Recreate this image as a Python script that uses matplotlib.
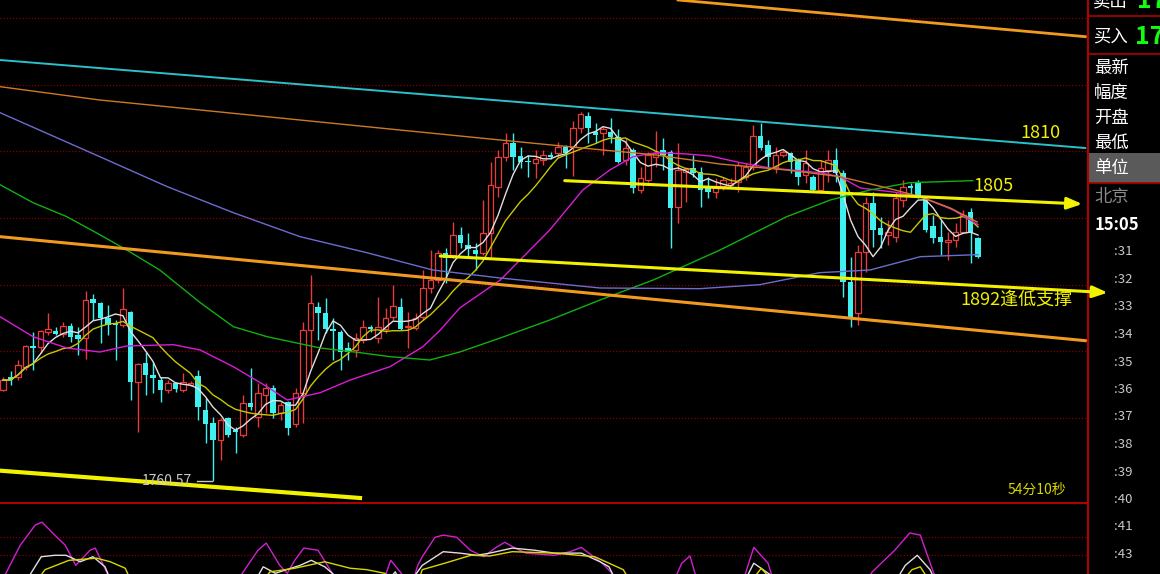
import numpy as np
import pandas as pd
import matplotlib
matplotlib.use('Agg')
import matplotlib.pyplot as plt
from matplotlib.lines import Line2D
from matplotlib.patches import Rectangle

plt.rcParams['font.family'] = ['Noto Sans CJK SC', 'DejaVu Sans']

# ---- candles (5 min bars), prices ----
opens = [1774.2, 1776.2, 1776.2, 1777.7, 1780.8, 1780.7, 1782.9, 1783.1, 1782.6, 1783.8,
         1782.5, 1782.0, 1787.9, 1787.3, 1785.0, 1784.3, 1784.0, 1785.9, 1775.4, 1778.3,
         1776.5, 1775.7, 1774.2, 1775.3, 1774.2, 1775.0, 1776.3, 1771.2, 1769.3, 1766.7,
         1770.0, 1768.2, 1767.5, 1772.3, 1770.2, 1773.5, 1774.5, 1770.8, 1772.4, 1769.1,
         1773.8, 1783.2, 1786.7, 1785.8, 1783.4, 1782.9, 1780.5, 1780.2, 1781.7, 1783.7,
         1782.0, 1783.4, 1785.2, 1786.7, 1783.6, 1783.5, 1785.2, 1789.5, 1790.7, 1794.8,
         1794.5, 1797.5, 1796.0, 1795.2, 1794.8, 1797.8, 1804.7, 1809.2, 1811.3, 1809.3,
         1808.6, 1808.3, 1808.7, 1809.5, 1809.8, 1810.7, 1810.7, 1813.5, 1815.3, 1812.9,
         1812.8, 1812.9, 1812.2, 1808.7, 1810.2, 1804.2, 1805.7, 1809.2, 1810.2, 1809.9,
         1801.7, 1806.9, 1807.5, 1806.9, 1804.7, 1803.9, 1804.8, 1805.0, 1805.4, 1806.2,
         1807.7, 1812.3, 1811.0, 1807.7, 1809.5, 1809.8, 1808.7, 1806.5, 1806.2, 1804.2,
         1807.2, 1808.7, 1806.8, 1790.4, 1785.8, 1794.9, 1802.3, 1798.5, 1797.5, 1797.2,
         1802.7, 1804.8, 1805.2, 1802.7, 1798.8, 1797.2, 1796.4, 1796.7, 1797.9, 1800.9,
         1797.0]
highs = [1776.2, 1777.0, 1778.7, 1781.0, 1782.9, 1783.2, 1785.8, 1783.7, 1784.4, 1784.3,
         1783.7, 1789.1, 1788.6, 1787.4, 1787.0, 1784.7, 1789.5, 1786.0, 1778.2, 1779.9,
         1778.4, 1776.2, 1775.7, 1775.4, 1776.8, 1775.6, 1777.2, 1773.0, 1770.2, 1770.0,
         1770.2, 1768.7, 1773.5, 1777.5, 1775.3, 1775.3, 1775.0, 1772.4, 1772.6, 1774.5,
         1784.4, 1791.5, 1787.4, 1788.0, 1785.0, 1783.2, 1781.4, 1782.8, 1784.7, 1784.0,
         1788.2, 1786.5, 1790.0, 1788.0, 1785.9, 1785.8, 1792.2, 1795.2, 1795.2, 1795.5,
         1799.4, 1798.7, 1797.8, 1796.3, 1802.7, 1808.4, 1810.2, 1812.8, 1812.8, 1810.7,
         1809.5, 1810.2, 1810.2, 1809.9, 1811.4, 1811.0, 1814.6, 1815.9, 1815.9, 1814.3,
         1813.7, 1815.0, 1813.4, 1812.0, 1810.5, 1807.7, 1809.9, 1813.1, 1812.0, 1810.2,
         1811.3, 1807.7, 1809.5, 1807.7, 1806.2, 1806.0, 1806.2, 1806.0, 1808.4, 1808.2,
         1814.0, 1814.3, 1811.7, 1810.7, 1810.2, 1809.9, 1809.0, 1810.2, 1806.5, 1808.7,
         1810.2, 1810.5, 1807.2, 1794.2, 1796.0, 1803.2, 1803.9, 1800.2, 1799.7, 1803.9,
         1805.7, 1805.3, 1805.7, 1803.2, 1800.5, 1799.7, 1797.9, 1799.3, 1801.2, 1801.5,
         1797.2]
lows = [1774.0, 1775.0, 1775.7, 1777.2, 1777.2, 1779.8, 1782.5, 1782.5, 1782.2, 1781.4,
        1779.5, 1778.9, 1784.7, 1781.3, 1782.5, 1778.7, 1783.7, 1772.7, 1767.9, 1773.5,
        1773.7, 1772.4, 1773.8, 1773.9, 1773.9, 1774.8, 1769.7, 1766.3, 1760.57, 1763.7,
        1767.2, 1764.8, 1767.2, 1771.2, 1768.7, 1770.8, 1770.0, 1769.7, 1767.5, 1768.7,
        1769.3, 1777.7, 1781.7, 1782.8, 1778.7, 1777.2, 1778.7, 1779.2, 1781.3, 1782.9,
        1781.3, 1782.8, 1784.7, 1783.2, 1780.5, 1783.2, 1784.7, 1788.8, 1790.3, 1790.3,
        1794.0, 1795.5, 1794.2, 1792.2, 1794.5, 1794.2, 1803.2, 1808.6, 1807.2, 1807.5,
        1806.2, 1806.0, 1808.0, 1808.9, 1809.2, 1807.5, 1806.3, 1812.8, 1811.3, 1811.3,
        1809.5, 1811.3, 1808.3, 1808.0, 1803.8, 1803.8, 1805.4, 1807.7, 1807.2, 1795.5,
        1799.3, 1802.4, 1806.2, 1801.7, 1803.0, 1803.0, 1804.2, 1804.5, 1803.9, 1805.7,
        1807.2, 1810.2, 1807.7, 1806.8, 1809.2, 1806.8, 1805.0, 1805.3, 1803.9, 1803.9,
        1805.4, 1805.4, 1788.2, 1783.7, 1784.0, 1791.9, 1795.7, 1795.5, 1796.0, 1796.4,
        1801.7, 1803.4, 1803.0, 1797.9, 1796.2, 1794.5, 1793.7, 1795.7, 1797.8, 1793.3,
        1794.0]
closes = [1775.7, 1775.7, 1778.0, 1780.8, 1780.5, 1783.1, 1783.4, 1782.6, 1783.8, 1782.2,
          1781.9, 1787.7, 1787.3, 1785.0, 1784.0, 1784.0, 1786.4, 1775.4, 1778.1, 1776.5,
          1776.0, 1774.2, 1775.3, 1774.4, 1775.4, 1775.3, 1771.7, 1769.1, 1766.7, 1769.7,
          1767.5, 1767.9, 1772.3, 1771.7, 1773.8, 1774.5, 1770.8, 1772.0, 1768.5, 1773.8,
          1783.2, 1787.3, 1785.8, 1783.4, 1783.1, 1779.9, 1779.9, 1782.0, 1783.7, 1783.4,
          1783.7, 1785.0, 1786.8, 1783.4, 1783.8, 1785.0, 1789.5, 1790.7, 1794.8, 1794.0,
          1797.5, 1796.3, 1795.4, 1794.6, 1797.8, 1805.0, 1809.2, 1811.3, 1809.2, 1808.4,
          1808.4, 1808.9, 1809.5, 1809.2, 1810.7, 1809.8, 1813.5, 1815.6, 1813.5, 1812.5,
          1813.4, 1812.2, 1808.4, 1810.5, 1804.5, 1806.0, 1809.5, 1809.8, 1809.5, 1801.5,
          1807.2, 1807.4, 1806.8, 1804.2, 1803.9, 1804.8, 1805.7, 1805.3, 1808.0, 1807.7,
          1812.3, 1810.5, 1809.2, 1809.5, 1809.9, 1808.4, 1806.2, 1808.3, 1804.2, 1807.5,
          1808.7, 1806.8, 1790.4, 1785.2, 1794.9, 1802.3, 1798.2, 1797.5, 1797.9, 1803.0,
          1804.7, 1804.5, 1803.3, 1798.2, 1797.0, 1796.4, 1796.7, 1797.9, 1800.5, 1797.9,
          1794.2]

# ---- longer moving averages, sampled along the chart (bar index, price) ----
ma20_idx = [-0.4, 4, 8.5, 12.9, 16.5, 22.7, 26.3, 30.7, 35.2, 37.9, 42.3, 46.3, 51.6, 56, 58.3,
            60.9, 66.3, 72.9, 77.3, 80.9, 84, 87.2, 91.2, 94.3, 98.3, 102.3, 108.9, 111.6,
            114.3, 118.7, 122.3, 126.7, 130]
ma20_val = [1785.2, 1782.2, 1780.5, 1779.9, 1780.8, 1781.0, 1780.2, 1777.7, 1774.7, 1772.7,
            1773.8, 1775.7, 1777.7, 1780.7, 1783.2, 1786.5, 1790.7, 1798.2, 1804.2, 1807.2,
            1809.2, 1809.8, 1809.6, 1809.3, 1808.3, 1807.5, 1806.8, 1806.2, 1804.5, 1803.9,
            1803.2, 1801.2, 1799.0]
ma60_idx = [-0.4, 4, 8.5, 12.9, 16.5, 20.9, 26.3, 30.7, 35.2, 42.3, 47.6, 51.6, 56.9, 60.9,
            66.3, 72.9, 79.6, 86.7, 95.6, 104.5, 110.3, 115.6, 120.9, 129.3]
ma60_val = [1805.0, 1802.3, 1800.2, 1797.5, 1795.2, 1792.2, 1787.3, 1783.7, 1782.2, 1780.5,
            1779.8, 1779.2, 1778.7, 1779.9, 1782.0, 1784.7, 1787.7, 1790.7, 1795.2, 1800.2,
            1802.7, 1804.2, 1805.3, 1805.6]
ma120_idx = [-0.4, 12.9, 21.9, 30.7, 39.6, 48.5, 57.3, 66.3, 79.6, 92.9, 100.9, 108.9, 115.6,
             122.3, 130]
ma120_val = [1815.8, 1809.2, 1804.7, 1800.8, 1797.2, 1794.8, 1792.2, 1791.0, 1789.5, 1789.4,
             1790.0, 1791.8, 1792.2, 1794.2, 1794.5]
ma250_idx = [-0.4, 12.9, 26.3, 39.6, 52.9, 66.3, 80, 86.7, 95.6, 104.5, 111.6, 117.9, 122.3,
             126.3, 129.9]
ma250_val = [1819.7, 1817.7, 1816.2, 1814.7, 1813.2, 1811.7, 1810.2, 1809.5, 1808.1, 1807.2,
             1806.2, 1804.5, 1803.2, 1801.5, 1799.4]

# ---- hand drawn lines (start idx, start price, end idx, end price) ----
cyan_line = [-0.4, 1823.7, 144.3, 1810.5]
orange_top = [90.0, 1832.7, 144.3, 1827.2]
orange_low = [-0.4, 1797.2, 144.3, 1781.6]
yellow_low_left = [-0.4, 1762.1, 47.6, 1758.0]
arrow_1805 = [74.9, 1805.6, 143.9, 1802.1]
arrow_1892 = [58.3, 1794.3, 147.3, 1788.8]
low_price = 1760.57

# ---- KDJ panel (bar index, value) ----
j_idx = [-0.4, 2.3, 4.3, 5.2, 6.9, 8.3, 9.7, 11.6, 12.3, 13.9, 14.9, 30.9, 31.9, 34, 35.1, 36.9,
         37.9, 38.9, 40.1, 42, 43.9, 45.6, 50.3, 51.7, 53.1, 54.3, 55.3, 55.9, 57.6, 58.7, 60.5,
         62.3, 64.1, 65.6, 66.9, 68.3, 69.7, 73.5, 75.6, 77.1, 79.9, 81.2, 82.3, 88.9, 90.5,
         91.6, 92.9, 98.3, 100.1, 102, 103.1, 114.3, 115.9, 118.9, 120.9, 122.3, 124.1, 125.6,
         130]
j_val = [-15, 40, 68, 72, 54, 40, 12, 33, 36, 1, -22, -22, 1, 33, 43, 12, 1, 19, 36, 33, 1,
         -22, -22, 19, 1, -22, 12, 24, 51, 54, 51, 33, 24, 36, 44, 36, 29, 26, 31, 37, 15, 1,
         -22, -22, 15, 25, -22, -22, 37, 15, -22, -22, 3, 33, 57, 54, 1, -22, -22]
k_idx = [-0.4, 3.6, 5.1, 6.9, 8.4, 10.3, 12, 13.6, 14.9, 32.9, 34.7, 36.3, 39.6, 41.1, 42.9,
         44.9, 50.3, 52.3, 53.6, 55, 55.9, 58.7, 60.9, 63.2, 64.9, 67.9, 70.9, 73.5, 77.1,
         79.6, 80.8, 82.3, 98.3, 100.1, 102.3, 103.6, 118.3, 120.3, 121.9, 123.6, 124.9]
k_val = [-22, -1, 24, 26, 26, 17, 24, 10, -22, -22, 10, 1, 12, 19, 10, -8, -22, 3, -22, -1,
         12, 31, 29, 26, 29, 36, 33, 29, 29, 17, 10, -22, -22, 15, -1, -22, -22, 12, 26, 6,
         -22]
d_idx = [3.6, 5.6, 8.8, 12.5, 14.3, 16.3, 17.6, 33.6, 35.6, 38.9, 42.9, 46.3, 48.5, 50.9,
         52.9, 55, 55.9, 58.9, 62.4, 64.9, 67.9, 73.5, 78.9, 82.7, 84.3, 98.9, 101.1, 103.6,
         118.9, 121.2, 122.3, 124.3]
d_val = [-22, 6, 19, 22, 17, 8, -22, -22, 3, 8, 17, 8, 6, 1, -22, -22, 6, 15, 26, 25, 31, 29,
         24, 6, -22, -22, 8, -22, -22, 6, 10, -22]

panel_labels = ['最新', '幅度', '开盘', '最低']
clock_labels = [':31', ':32', ':33', ':34', ':35', ':36', ':37', ':38', ':39', ':40', ':41', ':43']

RED = '#e83c3c'
CYAN = '#3ff0f0'
YEL = '#f2f200'
GRID = '#800000'

W, H = 1160, 574
fig = plt.figure(figsize=(W / 100, H / 100), dpi=100, facecolor='black')


def fx(x):
    return x / W


def fy(y):
    return 1 - y / H


# main price panel
ax = fig.add_axes([0, 72 / H, 1087 / W, 502 / H])
ax.set_facecolor('none')
ax.set_xlim(-0.4, 144.53)
ax.set_ylim(1757.4, 1832.7)
ax.axis('off')

for p in range(1770, 1831, 10):
    ax.axhline(p, color=GRID, lw=0.9, ls=(0, (1, 1.5)), zorder=1)

idx = np.arange(len(closes))
o, h, l, c = map(np.array, (opens, highs, lows, closes))
up = c >= o
lo = np.minimum(o, c)
hi = np.maximum(o, c)
body = np.maximum(hi - lo, 0.15)

ax.vlines(idx[up], hi[up], h[up], color=RED, lw=1, zorder=2)
ax.vlines(idx[up], l[up], lo[up], color=RED, lw=1, zorder=2)
ax.bar(idx[up], body[up], bottom=lo[up], width=0.78, facecolor='black', edgecolor=RED, lw=0.9, zorder=2)
ax.vlines(idx[~up], l[~up], h[~up], color=CYAN, lw=1, zorder=2)
ax.bar(idx[~up], body[~up], bottom=lo[~up], width=0.78, color=CYAN, lw=0, zorder=2)

# moving averages
close_s = pd.Series(closes)
ax.plot(idx, close_s.rolling(5, min_periods=1).mean(), color='#e0e0e0', lw=1, zorder=3)
ax.plot(idx, close_s.rolling(10, min_periods=1).mean(), color='#c8c800', lw=1, zorder=3)
ax.plot(ma20_idx, ma20_val, color='#d81cd8', lw=1, zorder=3)
ax.plot(ma60_idx, ma60_val, color='#10b010', lw=1, zorder=3)
ax.plot(ma120_idx, ma120_val, color='#6c6cd0', lw=1, zorder=3)
ax.plot(ma250_idx, ma250_val, color='#cc7a28', lw=1, zorder=3)

# channel / trend lines
ax.plot(cyan_line[0::2], cyan_line[1::2], color='#2cc0c8', lw=1.4, zorder=3)
ax.plot(orange_top[0::2], orange_top[1::2], color='#f09a20', lw=2, zorder=3)
ax.plot(orange_low[0::2], orange_low[1::2], color='#f09a20', lw=2.2, zorder=3)
ax.plot(yellow_low_left[0::2], yellow_low_left[1::2], color=YEL, lw=3, zorder=4)
for a in (arrow_1805, arrow_1892):
    ax.annotate('', xy=(a[2], a[3]), xytext=(a[0], a[1]), annotation_clip=False, zorder=5,
                arrowprops=dict(arrowstyle='-|>,head_length=0.9,head_width=0.35', color=YEL,
                                lw=2.2, shrinkA=0, shrinkB=0))

# lowest price marker
ax.text(18.5, low_price, '1760.57', color='#c8c8c8', fontsize=10, va='center', ha='left', zorder=5)
ax.plot([25.9, 27.9], [low_price, low_price], color='#c8c8c8', lw=1, zorder=5)

fig.text(fx(1020), fy(133), '1810', color=YEL, fontsize=13, va='center')
fig.text(fx(973), fy(186), '1805', color=YEL, fontsize=13, va='center')
fig.text(fx(960), fy(300), '1892逢低支撑', color=YEL, fontsize=13, va='center')
fig.text(fx(1008), fy(490), '54分10秒', color='#d8d800', fontsize=10, va='center')

# KDJ panel
ax2 = fig.add_axes([0, 0, 1087 / W, 72 / H])
ax2.set_facecolor('none')
ax2.set_xlim(-0.4, 144.53)
ax2.set_ylim(0, 100)
ax2.axis('off')
ax2.axhline(99.3, color='#c00000', lw=1.3)
for g in (51.4, 26.4):
    ax2.axhline(g, color=GRID, lw=0.9, ls=(0, (1, 1.5)))
ax2.plot(j_idx, j_val, color='#d020d0', lw=1)
ax2.plot(k_idx, k_val, color='#e0e0e0', lw=1)
ax2.plot(d_idx, d_val, color='#d8d800', lw=1)

# right info panel
fig.add_artist(Line2D([fx(1087.5), fx(1087.5)], [0, 1], color='#b00000', lw=1.5, zorder=-1))
for yy in (16, 54):
    fig.add_artist(Line2D([fx(1088), 1], [fy(yy), fy(yy)], color='#b00000', lw=1.2, zorder=-1))
fig.add_artist(Rectangle((fx(1088), fy(183)), 1 - fx(1088), (183 - 153) / H,
                         facecolor='#5a5a5a', edgecolor='none', zorder=-2))
fig.add_artist(Line2D([fx(1088), 1], [fy(183), fy(183)], color='#b00000', lw=1.2, zorder=-1))

fig.text(fx(1093), fy(1), '卖出', color='white', fontsize=12.5, va='center')
fig.text(fx(1137), fy(1), '17', color='#10ff10', fontsize=18, fontweight='bold', va='center')
fig.text(fx(1093), fy(37), '买入', color='white', fontsize=12.5, va='center')
fig.text(fx(1135), fy(37), '17', color='#10ff10', fontsize=18, fontweight='bold', va='center')
for k, lab in enumerate(panel_labels):
    fig.text(fx(1094), fy(68 + 25 * k), lab, color='white', fontsize=12.5, va='center')
fig.text(fx(1094), fy(168), '单位', color='white', fontsize=12.5, va='center')
fig.text(fx(1094), fy(197), '北京', color='#8a8a8a', fontsize=12.5, va='center')
fig.text(fx(1095), fy(225), '15:05', color='white', fontsize=12, fontweight='bold', va='center')
for k, lab in enumerate(clock_labels):
    fig.text(fx(1114), fy(252 + 27.5 * k), lab, color='#c8c8c8', fontsize=9.5, va='center')

fig.savefig('out.png', dpi=100, facecolor='black')
